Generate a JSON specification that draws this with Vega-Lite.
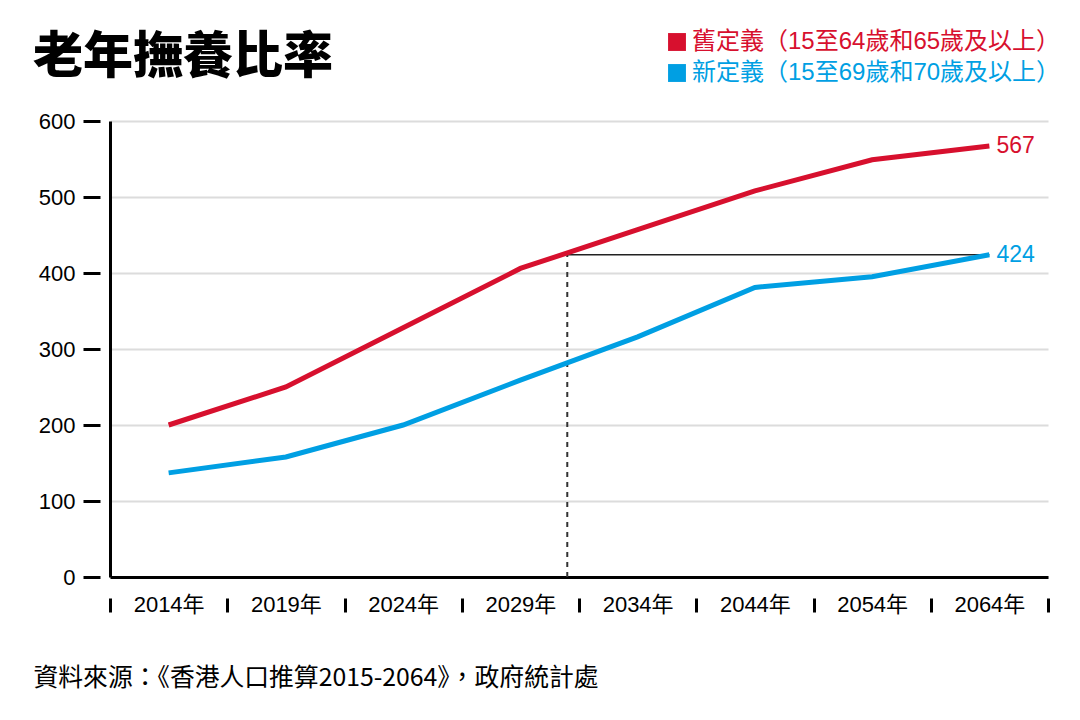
{
  "$schema": "https://vega.github.io/schema/vega-lite/v6.json",
  "width": 938,
  "height": 456,
  "autosize": {"type": "none"},
  "padding": {"left": 110, "top": 121, "right": 32, "bottom": 143},
  "background": "white",
  "config": {
    "view": {"stroke": null},
    "font": "Liberation Sans, Noto Sans CJK TC, sans-serif"
  },
  "title": {
    "text": "老年撫養比率",
    "anchor": "start",
    "frame": "group",
    "dx": -77,
    "offset": 0,
    "dy": 93,
    "baseline": "alphabetic",
    "fontSize": 50,
    "font": "Noto Sans CJK TC",
    "fontWeight": 900,
    "color": "black"
  },
  "datasets": {
    "series": [
      {"i": 0, "v": 200, "s": "舊定義（15至64歲和65歲及以上）"},
      {"i": 1, "v": 250, "s": "舊定義（15至64歲和65歲及以上）"},
      {"i": 2, "v": 328, "s": "舊定義（15至64歲和65歲及以上）"},
      {"i": 3, "v": 406, "s": "舊定義（15至64歲和65歲及以上）"},
      {"i": 4, "v": 457, "s": "舊定義（15至64歲和65歲及以上）"},
      {"i": 5, "v": 508, "s": "舊定義（15至64歲和65歲及以上）"},
      {"i": 6, "v": 549, "s": "舊定義（15至64歲和65歲及以上）"},
      {"i": 7, "v": 567, "s": "舊定義（15至64歲和65歲及以上）"},
      {"i": 0, "v": 137, "s": "新定義（15至69歲和70歲及以上）"},
      {"i": 1, "v": 158, "s": "新定義（15至69歲和70歲及以上）"},
      {"i": 2, "v": 200, "s": "新定義（15至69歲和70歲及以上）"},
      {"i": 3, "v": 259, "s": "新定義（15至69歲和70歲及以上）"},
      {"i": 4, "v": 316, "s": "新定義（15至69歲和70歲及以上）"},
      {"i": 5, "v": 381, "s": "新定義（15至69歲和70歲及以上）"},
      {"i": 6, "v": 395, "s": "新定義（15至69歲和70歲及以上）"},
      {"i": 7, "v": 424, "s": "新定義（15至69歲和70歲及以上）"}
    ],
    "vref": [{"i": 3.4, "v": 0, "v2": 424}],
    "href": [{"i": 3.4, "i2": 7, "v": 424}]
  },
  "layer": [
    {
      "data": {"name": "vref"},
      "mark": {"type": "rule", "strokeDash": [5, 5], "strokeWidth": 2, "color": "#333333"},
      "encoding": {
        "x": {
          "field": "i",
          "type": "quantitative",
          "scale": {"domain": [-0.5, 7.5], "nice": false, "zero": false},
          "axis": {
            "values": [-0.5, 0, 0.5, 1, 1.5, 2, 2.5, 3, 3.5, 4, 4.5, 5, 5.5, 6, 6.5, 7, 7.5],
            "labelExpr": "datum.value % 1 == 0 ? ['2014年','2019年','2024年','2029年','2034年','2044年','2054年','2064年'][datum.value] : ''",
            "labelOverlap": false,
            "labelFlush": false,
            "labelFontSize": 22,
            "labelColor": "black",
            "labelPadding": -19,
            "tickSize": 36,
            "tickWidth": 3,
            "tickDash": [0, 21, 14, 100],
            "tickColor": {"condition": {"test": "datum.value % 1 == 0", "value": "transparent"}, "value": "black"},
            "domainColor": "black",
            "domainWidth": 3,
            "grid": false,
            "title": "資料來源：《香港人口推算2015-2064》，政府統計處",
            "titleFont": "Noto Sans CJK TC",
            "titleFontSize": 24.8,
            "titleFontWeight": "normal",
            "titleColor": "black",
            "titleAnchor": "start",
            "titleAlign": "left",
            "titleBaseline": "alphabetic",
            "titleX": -77,
            "titleY": 108
          }
        },
        "y": {
          "field": "v",
          "type": "quantitative",
          "scale": {"domain": [0, 600], "nice": false},
          "axis": {
            "values": [0, 100, 200, 300, 400, 500, 600],
            "tickSize": 27,
            "tickWidth": 3,
            "tickDash": [0, 10, 17, 100],
            "tickColor": "black",
            "domainColor": "black",
            "domainWidth": 3,
            "labelFontSize": 22,
            "labelColor": "black",
            "labelPadding": 8,
            "grid": true,
            "gridColor": "#dcdcdc",
            "gridWidth": 2,
            "title": null
          }
        },
        "y2": {"field": "v2"}
      }
    },
    {
      "data": {"name": "href"},
      "mark": {"type": "rule", "strokeWidth": 1.5, "color": "#222222"},
      "encoding": {
        "x": {"field": "i", "type": "quantitative"},
        "x2": {"field": "i2"},
        "y": {"field": "v", "type": "quantitative"}
      }
    },
    {
      "data": {"name": "series"},
      "mark": {"type": "line", "strokeWidth": 5},
      "encoding": {
        "x": {"field": "i", "type": "quantitative"},
        "y": {"field": "v", "type": "quantitative"},
        "color": {
          "field": "s",
          "type": "nominal",
          "scale": {
            "domain": ["舊定義（15至64歲和65歲及以上）", "新定義（15至69歲和70歲及以上）"],
            "range": ["#d7102e", "#009fe3"]
          },
          "legend": {
            "orient": "none",
            "legendX": 555,
            "legendY": -91,
            "title": null,
            "padding": 0,
            "symbolType": "square",
            "symbolSize": 320,
            "symbolStrokeWidth": 0,
            "symbolOpacity": 1,
            "labelFont": "Liberation Sans, Noto Sans CJK TC",
            "labelFontSize": 24,
            "labelOffset": 3,
            "labelLimit": 500,
            "rowPadding": 7,
            "encode": {
              "symbols": {"update": {"fill": {"scale": "color", "field": "value"}, "stroke": {"value": "transparent"}}},
              "labels": {"update": {"fill": {"scale": "color", "field": "value"}}}
            }
          }
        }
      }
    },
    {
      "data": {"name": "series"},
      "transform": [{"filter": "datum.i == 7"}],
      "mark": {"type": "text", "align": "left", "baseline": "middle", "dx": 7, "fontSize": 23, "font": "Liberation Sans"},
      "encoding": {
        "x": {"field": "i", "type": "quantitative"},
        "y": {"field": "v", "type": "quantitative"},
        "text": {"field": "v", "type": "quantitative"},
        "color": {"field": "s", "type": "nominal", "legend": null}
      }
    }
  ]
}
